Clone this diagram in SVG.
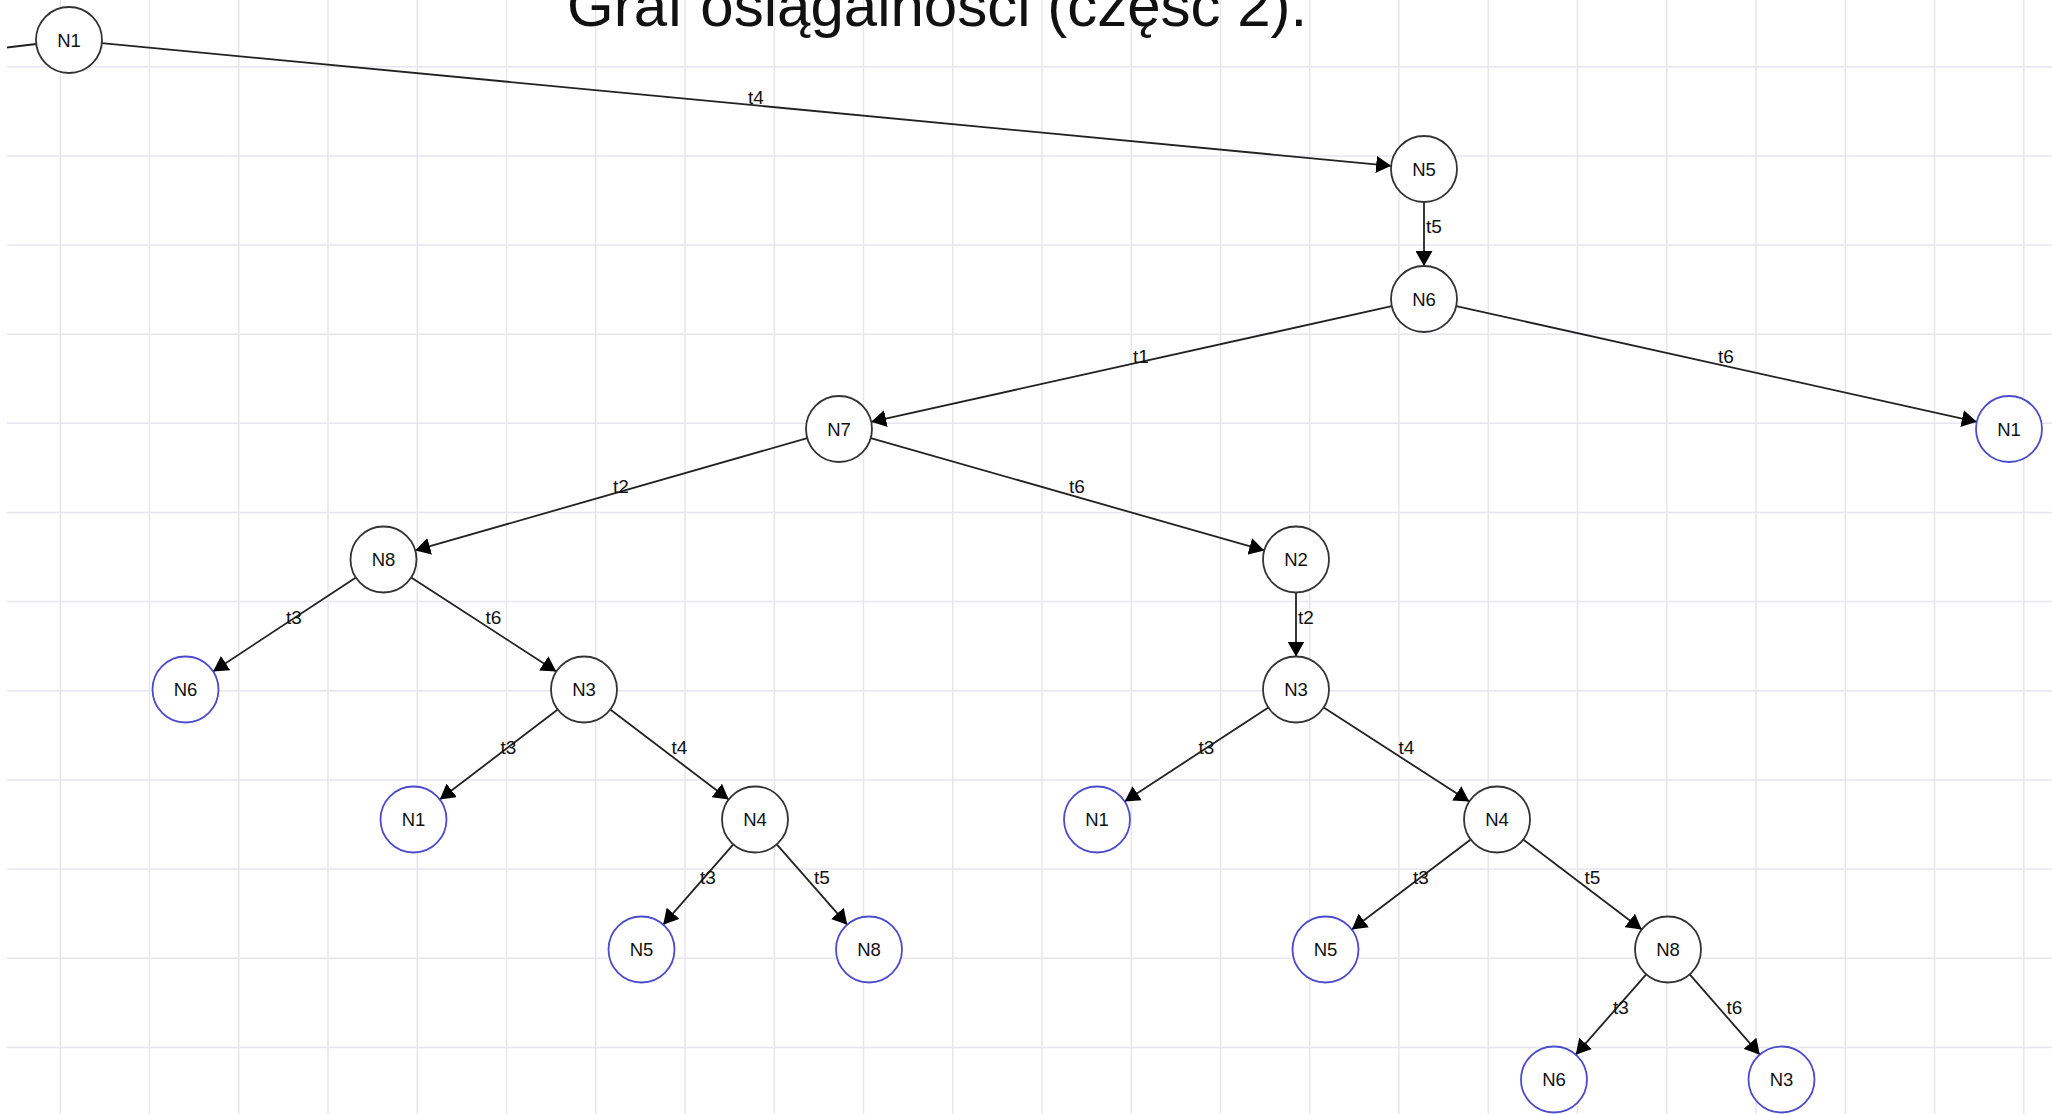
<svg xmlns="http://www.w3.org/2000/svg" width="2052" height="1114" viewBox="0 0 2052 1114">
  <style>
    .grid line { stroke: #e6e6ee; stroke-width: 1.5; }
    .title { font-family: "Liberation Sans", Arial, sans-serif; font-size: 60px; fill: #111; }
    .node circle { fill: #fff; stroke: #333; stroke-width: 1.8; }
    .node.leaf circle { stroke: #4b4bcc; }
    .node text { font-family: "Liberation Sans", Arial, sans-serif; font-size: 18.5px; fill: #111; text-anchor: middle; }
    .edges line { stroke: #222; stroke-width: 1.8; }
    .edges line.arrow { marker-end: url(#arrowhead); }
    .edges text { font-family: "Liberation Sans", Arial, sans-serif; font-size: 19px; fill: #111; }
  </style>
  <defs>
    <marker id="arrowhead" markerUnits="userSpaceOnUse" markerWidth="15" markerHeight="17" refX="15" refY="8.5" orient="auto">
      <path d="M0,0 L15,8.5 L0,17 z" fill="#000"/>
    </marker>
  </defs>

  <rect width="2052" height="1114" fill="#fff"/>

  <!-- background grid -->
  <g class="grid">
    <line x1="60.3" y1="0" x2="60.3" y2="1114"/>
    <line x1="149.5" y1="0" x2="149.5" y2="1114"/>
    <line x1="238.8" y1="0" x2="238.8" y2="1114"/>
    <line x1="328" y1="0" x2="328" y2="1114"/>
    <line x1="417.3" y1="0" x2="417.3" y2="1114"/>
    <line x1="506.5" y1="0" x2="506.5" y2="1114"/>
    <line x1="595.8" y1="0" x2="595.8" y2="1114"/>
    <line x1="685" y1="0" x2="685" y2="1114"/>
    <line x1="774.3" y1="0" x2="774.3" y2="1114"/>
    <line x1="863.5" y1="0" x2="863.5" y2="1114"/>
    <line x1="952.8" y1="0" x2="952.8" y2="1114"/>
    <line x1="1042" y1="0" x2="1042" y2="1114"/>
    <line x1="1131.3" y1="0" x2="1131.3" y2="1114"/>
    <line x1="1220.5" y1="0" x2="1220.5" y2="1114"/>
    <line x1="1309.8" y1="0" x2="1309.8" y2="1114"/>
    <line x1="1399" y1="0" x2="1399" y2="1114"/>
    <line x1="1488.3" y1="0" x2="1488.3" y2="1114"/>
    <line x1="1577.5" y1="0" x2="1577.5" y2="1114"/>
    <line x1="1666.8" y1="0" x2="1666.8" y2="1114"/>
    <line x1="1756" y1="0" x2="1756" y2="1114"/>
    <line x1="1845.3" y1="0" x2="1845.3" y2="1114"/>
    <line x1="1934.5" y1="0" x2="1934.5" y2="1114"/>
    <line x1="2023.8" y1="0" x2="2023.8" y2="1114"/>
    <line x1="7" y1="66.7" x2="2052" y2="66.7"/>
    <line x1="7" y1="155.9" x2="2052" y2="155.9"/>
    <line x1="7" y1="245" x2="2052" y2="245"/>
    <line x1="7" y1="334.2" x2="2052" y2="334.2"/>
    <line x1="7" y1="423.3" x2="2052" y2="423.3"/>
    <line x1="7" y1="512.5" x2="2052" y2="512.5"/>
    <line x1="7" y1="601.6" x2="2052" y2="601.6"/>
    <line x1="7" y1="690.8" x2="2052" y2="690.8"/>
    <line x1="7" y1="779.9" x2="2052" y2="779.9"/>
    <line x1="7" y1="869.1" x2="2052" y2="869.1"/>
    <line x1="7" y1="958.2" x2="2052" y2="958.2"/>
    <line x1="7" y1="1047.4" x2="2052" y2="1047.4"/>
  </g>

  <text class="title" x="567" y="26">Graf osiągalności (część 2).</text>

  <!-- transitions -->
  <g id="edges" class="edges">
    <line x1="7" y1="47.5" x2="36.2" y2="44"/>
    <line class="arrow" x1="101.85" y1="43.13" x2="1391.15" y2="165.87"/>
    <text x="748" y="103.5">t4</text>
    <line class="arrow" x1="1424" y1="202" x2="1424" y2="266"/>
    <text x="1426" y="233">t5</text>
    <line class="arrow" x1="1391.79" y1="306.16" x2="871.21" y2="421.84"/>
    <text x="1133" y="363">t1</text>
    <line class="arrow" x1="1456.21" y1="306.16" x2="1976.79" y2="421.84"/>
    <text x="1718" y="363">t6</text>
    <line class="arrow" x1="807.28" y1="438.09" x2="415.22" y2="550.41"/>
    <text x="613" y="493">t2</text>
    <line class="arrow" x1="870.73" y1="438.06" x2="1264.27" y2="550.44"/>
    <text x="1069" y="493">t6</text>
    <line class="arrow" x1="355.91" y1="577.61" x2="213.09" y2="671.39"/>
    <text x="286" y="623.5">t3</text>
    <line class="arrow" x1="411.19" y1="577.45" x2="556.31" y2="671.55"/>
    <text x="485.5" y="623.5">t6</text>
    <line class="arrow" x1="1296" y1="592.5" x2="1296" y2="656.5"/>
    <text x="1298" y="623.5">t2</text>
    <line class="arrow" x1="557.76" y1="709.51" x2="439.74" y2="799.49"/>
    <text x="500.5" y="753.5">t3</text>
    <line class="arrow" x1="610.27" y1="709.47" x2="728.73" y2="799.53"/>
    <text x="671.5" y="753.5">t4</text>
    <line class="arrow" x1="1268.37" y1="707.55" x2="1124.63" y2="801.45"/>
    <text x="1198.5" y="753.5">t3</text>
    <line class="arrow" x1="1323.71" y1="707.42" x2="1469.29" y2="801.58"/>
    <text x="1398.5" y="753.5">t4</text>
    <line class="arrow" x1="733.3" y1="844.36" x2="663.2" y2="924.64"/>
    <text x="700" y="883.5">t3</text>
    <line class="arrow" x1="776.76" y1="844.31" x2="847.24" y2="924.69"/>
    <text x="814" y="883.5">t5</text>
    <line class="arrow" x1="1470.7" y1="839.43" x2="1351.8" y2="929.57"/>
    <text x="1413" y="883.5">t3</text>
    <line class="arrow" x1="1523.27" y1="839.47" x2="1641.73" y2="929.53"/>
    <text x="1584.5" y="883.5">t5</text>
    <line class="arrow" x1="1646.24" y1="974.31" x2="1575.76" y2="1054.69"/>
    <text x="1613" y="1013.5">t3</text>
    <line class="arrow" x1="1689.7" y1="974.36" x2="1759.8" y2="1054.64"/>
    <text x="1726.5" y="1013.5">t6</text>
  </g>

  <!-- markings -->
  <g id="n-root-N1" class="node"><circle cx="69" cy="40" r="33"/><text x="69" y="46.5">N1</text></g>
  <g id="n-N5" class="node"><circle cx="1424" cy="169" r="33"/><text x="1424" y="175.5">N5</text></g>
  <g id="n-N6" class="node"><circle cx="1424" cy="299" r="33"/><text x="1424" y="305.5">N6</text></g>
  <g id="n-N7" class="node"><circle cx="839" cy="429" r="33"/><text x="839" y="435.5">N7</text></g>
  <g id="n-N1-a" class="node leaf"><circle cx="2009" cy="429" r="33"/><text x="2009" y="435.5">N1</text></g>
  <g id="n-N8" class="node"><circle cx="383.5" cy="559.5" r="33"/><text x="383.5" y="566">N8</text></g>
  <g id="n-N2" class="node"><circle cx="1296" cy="559.5" r="33"/><text x="1296" y="566">N2</text></g>
  <g id="n-N6-a" class="node leaf"><circle cx="185.5" cy="689.5" r="33"/><text x="185.5" y="696">N6</text></g>
  <g id="n-N3-a" class="node"><circle cx="584" cy="689.5" r="33"/><text x="584" y="696">N3</text></g>
  <g id="n-N3-b" class="node"><circle cx="1296" cy="689.5" r="33"/><text x="1296" y="696">N3</text></g>
  <g id="n-N1-b" class="node leaf"><circle cx="413.5" cy="819.5" r="33"/><text x="413.5" y="826">N1</text></g>
  <g id="n-N4-a" class="node"><circle cx="755" cy="819.5" r="33"/><text x="755" y="826">N4</text></g>
  <g id="n-N1-c" class="node leaf"><circle cx="1097" cy="819.5" r="33"/><text x="1097" y="826">N1</text></g>
  <g id="n-N4-b" class="node"><circle cx="1497" cy="819.5" r="33"/><text x="1497" y="826">N4</text></g>
  <g id="n-N5-a" class="node leaf"><circle cx="641.5" cy="949.5" r="33"/><text x="641.5" y="956">N5</text></g>
  <g id="n-N8-a" class="node leaf"><circle cx="869" cy="949.5" r="33"/><text x="869" y="956">N8</text></g>
  <g id="n-N5-b" class="node leaf"><circle cx="1325.5" cy="949.5" r="33"/><text x="1325.5" y="956">N5</text></g>
  <g id="n-N8-b" class="node"><circle cx="1668" cy="949.5" r="33"/><text x="1668" y="956">N8</text></g>
  <g id="n-N6-b" class="node leaf"><circle cx="1554" cy="1079.5" r="33"/><text x="1554" y="1086">N6</text></g>
  <g id="n-N3-c" class="node leaf"><circle cx="1781.5" cy="1079.5" r="33"/><text x="1781.5" y="1086">N3</text></g>
</svg>
